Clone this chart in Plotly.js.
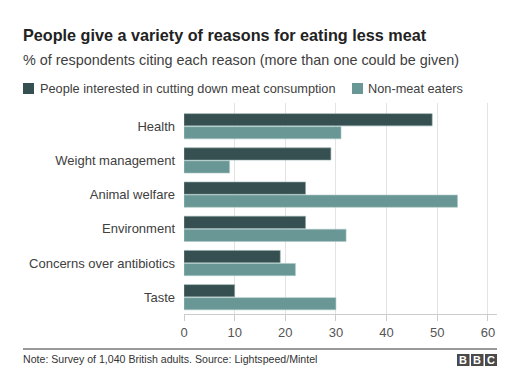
<!DOCTYPE html>
<html>
<head>
<meta charset="utf-8">
<script src="https://cdn.plot.ly/plotly-3.0.1.min.js"></script>
<style>
html,body{margin:0;padding:0;background:#fff;}
#chart{width:524px;height:377px;}
</style>
</head>
<body>
<div id="chart"></div>
<script>
const categories = ["Health", "Weight management", "Animal welfare", "Environment", "Concerns over antibiotics", "Taste"];
const seriesNames = ["People interested in cutting down meat consumption", "Non-meat eaters"];
const cuttingDown = [49, 29, 24, 24, 19, 10];
const nonMeatEaters = [31, 9, 54, 32, 22, 30];
const xTickValues = [0, 10, 20, 30, 40, 50, 60];

const titleText = "People give a variety of reasons for eating less meat";
const subtitleText = "% of respondents citing each reason (more than one could be given)";
const noteText = "Note: Survey of 1,040 British adults. Source: Lightspeed/Mintel";

const DARK = "#364f51";
const LIGHT = "#699795";
const FONT = "Liberation Sans, Arial, sans-serif";

// layout geometry in pixels
const W = 524, H = 377;
const L = 184, R = 497, T = 103, B = 314;
const px = x => (x - L) / (R - L);
const py = y => (B - y) / (B - T);

const traces = [
  {
    type: "bar", orientation: "h", name: seriesNames[0],
    y: categories, x: cuttingDown,
    marker: {color: DARK, line: {color: "#8fa9a8", width: 0.6}},
    hoverinfo: "x+y", showlegend: false
  },
  {
    type: "bar", orientation: "h", name: seriesNames[1],
    y: categories, x: nonMeatEaters,
    marker: {color: LIGHT, line: {color: "#a9c8c6", width: 0.6}},
    hoverinfo: "x+y", showlegend: false
  }
];

const shapes = [
  // legend squares
  {type: "rect", xref: "paper", yref: "paper", x0: px(23), x1: px(34), y0: py(94), y1: py(83), fillcolor: DARK, line: {width: 0}},
  {type: "rect", xref: "paper", yref: "paper", x0: px(352), x1: px(363), y0: py(94), y1: py(83), fillcolor: LIGHT, line: {width: 0}},
  // footer rule
  {type: "line", xref: "paper", yref: "paper", x0: px(23), x1: px(497), y0: py(349), y1: py(349), line: {color: "#999999", width: 2}},
  // BBC blocks
  {type: "rect", xref: "paper", yref: "paper", x0: px(457), x1: px(469.5), y0: py(366), y1: py(354), fillcolor: "#4a4a4a", line: {width: 0}},
  {type: "rect", xref: "paper", yref: "paper", x0: px(471), x1: px(483.5), y0: py(366), y1: py(354), fillcolor: "#4a4a4a", line: {width: 0}},
  {type: "rect", xref: "paper", yref: "paper", x0: px(485), x1: px(497), y0: py(366), y1: py(354), fillcolor: "#4a4a4a", line: {width: 0}}
];

const ann = (text, x, y, size, opts) => Object.assign({
  text: text, xref: "paper", yref: "paper", x: px(x), y: py(y),
  xanchor: "left", yanchor: "middle", showarrow: false,
  font: {family: FONT, size: size, color: "#222222"}
}, opts || {});

const annotations = [
  ann("<b>" + titleText + "</b>", 21, 35, 16.2, {font: {family: FONT, size: 16.2, color: "#222222"}}),
  ann(subtitleText, 21, 60, 14.4, {font: {family: FONT, size: 14.4, color: "#404040"}}),
  ann(seriesNames[0], 38, 88.5, 12.75, {font: {family: FONT, size: 12.75, color: "#404040"}}),
  ann(seriesNames[1], 366, 88.5, 12.75, {font: {family: FONT, size: 12.75, color: "#404040"}}),
  ann(noteText, 21, 359, 10.6, {font: {family: FONT, size: 10.6, color: "#333333"}}),
  ann("<b>B</b>", 463.25, 360, 11, {xanchor: "center", font: {family: FONT, size: 11, color: "#ffffff"}}),
  ann("<b>B</b>", 477.25, 360, 11, {xanchor: "center", font: {family: FONT, size: 11, color: "#ffffff"}}),
  ann("<b>C</b>", 491, 360, 11, {xanchor: "center", font: {family: FONT, size: 11, color: "#ffffff"}})
];

const layout = {
  width: W, height: H,
  margin: {l: L, r: W - R, t: T, b: H - B, pad: 0},
  paper_bgcolor: "#ffffff", plot_bgcolor: "#ffffff",
  barmode: "group", bargap: 0.24, bargroupgap: 0.06,
  font: {family: FONT, size: 13, color: "#404040"},
  showlegend: false,
  xaxis: {
    range: [0, 61.8], tickvals: xTickValues, ticktext: xTickValues.map(String),
    showgrid: true, gridcolor: "#e3e3e3", gridwidth: 1,
    zeroline: false, showline: true, linecolor: "#cccccc", linewidth: 1,
    ticks: "outside", ticklen: 6, tickcolor: "#cccccc",
    tickfont: {family: FONT, size: 13, color: "#555555"}, fixedrange: true
  },
  yaxis: {
    type: "category", categoryorder: "array", categoryarray: categories,
    range: [5.49, -0.68], showgrid: false, zeroline: false, showline: false,
    ticks: "", ticklabelstandoff: 8,
    tickfont: {family: FONT, size: 13, color: "#404040"}, fixedrange: true
  },
  shapes: shapes,
  annotations: annotations
};

Plotly.newPlot("chart", traces, layout, {displayModeBar: false, staticPlot: true});
</script>
</body>
</html>
